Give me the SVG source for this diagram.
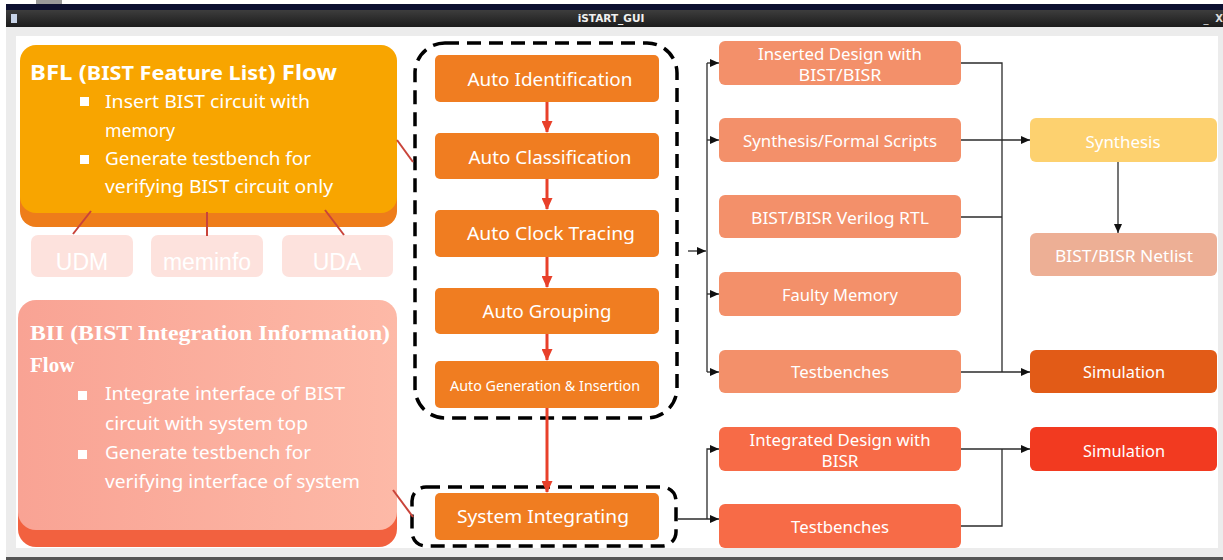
<svg xmlns="http://www.w3.org/2000/svg" width="1223" height="560" viewBox="0 0 1223 560">
<defs>
<style>
.t{font-family:"Noto Sans","DejaVu Sans",sans-serif;fill:#fff;}
.m{font-size:18px;text-anchor:middle;}
.c2{font-size:17px;text-anchor:middle;}
.lt{font-size:18.5px;}
.blk{fill:none;stroke:#2b2b2b;stroke-width:1.3;}
.red{fill:none;stroke:#e8402a;stroke-width:3;}
.redl{fill:none;stroke:#c9443a;stroke-width:2;}
.dash{fill:none;stroke:#000;stroke-width:3.5;stroke-dasharray:14 8;}
.ob{fill:#f07d21;}
.sb{fill:#f3906a;}
.rb{fill:#f76b47;}
</style>
<marker id="ab" markerWidth="9" markerHeight="8" refX="9" refY="4" orient="auto" markerUnits="userSpaceOnUse"><path d="M0,0 L9,4 L0,8 Z" fill="#111"/></marker>
<marker id="ar" markerWidth="12" markerHeight="11" refX="11" refY="5.5" orient="auto" markerUnits="userSpaceOnUse"><path d="M0,0 L12,5.5 L0,11 Z" fill="#e8402a"/></marker>
<linearGradient id="bar" x1="0" y1="0" x2="0" y2="1"><stop offset="0" stop-color="#3d3d3d"/><stop offset="1" stop-color="#1c1c1c"/></linearGradient>
<linearGradient id="bii" x1="0" y1="0" x2="1" y2="0"><stop offset="0" stop-color="#f9a394"/><stop offset="1" stop-color="#fdb9a7"/></linearGradient>
</defs>
<rect width="1223" height="560" fill="#ffffff"/>
<g id="window">
<rect x="6" y="4" width="1217" height="6" fill="#0d1030"/>
<rect x="36" y="0" width="26" height="4" fill="#9a9a9a"/>
<rect x="6" y="10" width="1217" height="17" fill="url(#bar)"/>
<rect x="11" y="14" width="6" height="9" fill="#c8d4e8"/>
<text x="611" y="22" text-anchor="middle" font-family="DejaVu Sans,sans-serif" font-weight="bold" font-size="10.5" fill="#f0f0f0">iSTART_GUI</text>
<text x="1206" y="22" text-anchor="middle" font-family="DejaVu Sans,sans-serif" font-size="10" fill="#ddd">_</text>
<text x="1219" y="22" text-anchor="middle" font-family="DejaVu Sans,sans-serif" font-weight="bold" font-size="10" fill="#ddd">X</text>
<rect x="6" y="27" width="1217" height="530" fill="#ececec"/>
<rect x="16" y="36" width="1202" height="512" fill="#ffffff"/>
<rect x="6" y="557" width="1217" height="3" fill="#555"/>
</g>
<g id="bfl">
<rect x="20" y="58" width="377" height="169" rx="16" fill="#ee7d1a"/>
<rect x="20" y="45" width="377" height="168" rx="16" fill="#f8a500"/>
<text class="t" x="30" y="80" font-weight="bold" font-size="21" textLength="307" lengthAdjust="spacingAndGlyphs">BFL (<tspan font-size="19">BIST Feature List</tspan>) Flow</text>
<rect x="80" y="97" width="9" height="9" fill="#fff"/>
<text class="t lt" x="105" y="108" textLength="205" lengthAdjust="spacingAndGlyphs">Insert BIST circuit with</text>
<text class="t lt" x="105" y="137" textLength="70" lengthAdjust="spacingAndGlyphs">memory</text>
<rect x="80" y="155" width="9" height="9" fill="#fff"/>
<text class="t lt" x="105" y="165" textLength="206" lengthAdjust="spacingAndGlyphs">Generate testbench for</text>
<text class="t lt" x="105" y="193" textLength="228" lengthAdjust="spacingAndGlyphs">verifying BIST circuit only</text>
</g>
<g id="udm"><rect x="31" y="235" width="102" height="42" rx="7" fill="#fde2dd"/><text x="82" y="270" text-anchor="middle" font-family="Liberation Sans,Arial,sans-serif" font-size="23" fill="#fff">UDM</text></g>
<g id="meminfo"><rect x="151" y="235" width="112" height="42" rx="7" fill="#fde2dd"/><text x="207" y="270" text-anchor="middle" font-family="Liberation Sans,Arial,sans-serif" font-size="23" fill="#fff">meminfo</text></g>
<g id="uda"><rect x="282" y="235" width="111" height="42" rx="7" fill="#fde2dd"/><text x="337" y="270" text-anchor="middle" font-family="Liberation Sans,Arial,sans-serif" font-size="23" fill="#fff">UDA</text></g>
<g id="bii">
<rect x="18" y="318" width="379" height="229" rx="18" fill="#f2613f"/>
<rect x="18" y="300" width="379" height="230" rx="18" fill="url(#bii)"/>
<text x="30" y="340" font-family="Liberation Serif,serif" font-weight="bold" font-size="21" fill="#fff" textLength="360" lengthAdjust="spacingAndGlyphs">BII (BIST Integration Information)</text>
<text x="30" y="372" font-family="Liberation Serif,serif" font-weight="bold" font-size="21" fill="#fff">Flow</text>
<rect x="78" y="391" width="9" height="9" fill="#fff"/>
<text class="t lt" x="105" y="400" textLength="240" lengthAdjust="spacingAndGlyphs">Integrate interface of BIST</text>
<text class="t lt" x="105" y="430" textLength="203" lengthAdjust="spacingAndGlyphs">circuit with system top</text>
<rect x="78" y="450" width="9" height="9" fill="#fff"/>
<text class="t lt" x="105" y="459" textLength="206" lengthAdjust="spacingAndGlyphs">Generate testbench for</text>
<text class="t lt" x="105" y="488" textLength="255" lengthAdjust="spacingAndGlyphs">verifying interface of system</text>
</g>
<g id="auto-group"><rect class="dash" x="415" y="43" width="262" height="375" rx="30"/></g>
<g id="sys-group"><rect class="dash" x="412" y="487" width="264" height="59" rx="14"/></g>
<g id="auto-identification"><rect class="ob" x="435" y="55" width="224" height="47" rx="5"/><text class="t m" x="550" y="86" textLength="165" lengthAdjust="spacingAndGlyphs">Auto Identification</text></g>
<g id="auto-classification"><rect class="ob" x="435" y="133" width="224" height="46" rx="5"/><text class="t m" x="550" y="164" textLength="163" lengthAdjust="spacingAndGlyphs">Auto Classification</text></g>
<g id="auto-clock-tracing"><rect class="ob" x="435" y="210" width="224" height="47" rx="5"/><text class="t m" x="551" y="240" textLength="168" lengthAdjust="spacingAndGlyphs">Auto Clock Tracing</text></g>
<g id="auto-grouping"><rect class="ob" x="435" y="288" width="224" height="46" rx="5"/><text class="t m" x="547" y="318" textLength="129" lengthAdjust="spacingAndGlyphs">Auto Grouping</text></g>
<g id="auto-generation"><rect class="ob" x="435" y="361" width="224" height="47" rx="5"/><text class="t" x="545" y="391" font-size="14.5" text-anchor="middle" textLength="190" lengthAdjust="spacingAndGlyphs">Auto Generation &amp; Insertion</text></g>
<g id="system-integrating"><rect class="ob" x="435" y="493" width="224" height="47" rx="5"/><text class="t m" x="543" y="523" textLength="172" lengthAdjust="spacingAndGlyphs">System Integrating</text></g>
<g id="inserted-design"><rect class="sb" x="719" y="41" width="242" height="44" rx="6"/><text class="t c2" x="840" y="60" textLength="164" lengthAdjust="spacingAndGlyphs">Inserted Design with</text><text class="t c2" x="840" y="81" textLength="83" lengthAdjust="spacingAndGlyphs">BIST/BISR</text></g>
<g id="synth-scripts"><rect class="sb" x="719" y="118" width="242" height="44" rx="6"/><text class="t c2" x="840" y="147" textLength="194" lengthAdjust="spacingAndGlyphs">Synthesis/Formal Scripts</text></g>
<g id="rtl"><rect class="sb" x="719" y="195" width="242" height="43" rx="6"/><text class="t c2" x="840" y="224" textLength="178" lengthAdjust="spacingAndGlyphs">BIST/BISR Verilog RTL</text></g>
<g id="faulty-memory"><rect class="sb" x="719" y="272" width="242" height="44" rx="6"/><text class="t c2" x="840" y="301" textLength="116" lengthAdjust="spacingAndGlyphs">Faulty Memory</text></g>
<g id="testbenches-1"><rect class="sb" x="719" y="350" width="242" height="43" rx="6"/><text class="t c2" x="840" y="378" textLength="98" lengthAdjust="spacingAndGlyphs">Testbenches</text></g>
<g id="integrated-design"><rect class="rb" x="719" y="427" width="242" height="44" rx="6"/><text class="t c2" x="840" y="446" textLength="181" lengthAdjust="spacingAndGlyphs">Integrated Design with</text><text class="t c2" x="840" y="467" textLength="37" lengthAdjust="spacingAndGlyphs">BISR</text></g>
<g id="testbenches-2"><rect class="rb" x="719" y="504" width="242" height="44" rx="6"/><text class="t c2" x="840" y="533" textLength="98" lengthAdjust="spacingAndGlyphs">Testbenches</text></g>
<g id="synthesis"><rect x="1030" y="118" width="187" height="44" rx="6" fill="#fdd16f"/><text class="t c2" x="1123" y="148" textLength="75" lengthAdjust="spacingAndGlyphs">Synthesis</text></g>
<g id="netlist"><rect x="1030" y="233" width="187" height="43" rx="6" fill="#edaf95"/><text class="t c2" x="1124" y="262" textLength="138" lengthAdjust="spacingAndGlyphs">BIST/BISR Netlist</text></g>
<g id="simulation-1"><rect x="1030" y="350" width="187" height="43" rx="6" fill="#e25b17"/><text class="t c2" x="1124" y="378" textLength="82" lengthAdjust="spacingAndGlyphs">Simulation</text></g>
<g id="simulation-2"><rect x="1030" y="427" width="187" height="44" rx="6" fill="#f23a20"/><text class="t c2" x="1124" y="457" textLength="82" lengthAdjust="spacingAndGlyphs" fill="#ffe8e0">Simulation</text></g>
<g id="connectors">
<path class="redl" d="M397,140 L413,162"/>
<path class="redl" d="M91,211 L73,234"/>
<path class="redl" d="M207,212 V236"/>
<path class="redl" d="M325,210 L344,235"/>
<path class="redl" d="M393,490 L413,517"/>
<path class="red" d="M547,102 V132" marker-end="url(#ar)"/>
<path class="red" d="M547,179 V209" marker-end="url(#ar)"/>
<path class="red" d="M547,257 V287" marker-end="url(#ar)"/>
<path class="red" d="M547,334 V360" marker-end="url(#ar)"/>
<path class="red" d="M547,408 V492" marker-end="url(#ar)"/>
<path class="blk" d="M688,251 H706" marker-end="url(#ab)"/>
<path class="blk" d="M707,63 V372"/>
<path class="blk" d="M707,63 H719" marker-end="url(#ab)"/>
<path class="blk" d="M707,140 H719" marker-end="url(#ab)"/>
<path class="blk" d="M707,294 H719" marker-end="url(#ab)"/>
<path class="blk" d="M707,372 H719" marker-end="url(#ab)"/>
<path class="blk" d="M961,63 H1002 V372"/>
<path class="blk" d="M961,140 H1030" marker-end="url(#ab)"/>
<path class="blk" d="M961,217 H1002"/>
<path class="blk" d="M961,372 H1030" marker-end="url(#ab)"/>
<path class="blk" d="M1118,162 V233" marker-end="url(#ab)"/>
<path class="blk" d="M678,519 H719" marker-end="url(#ab)"/>
<path class="blk" d="M707,519 V449 H719" marker-end="url(#ab)"/>
<path class="blk" d="M961,449 H1030" marker-end="url(#ab)"/>
<path class="blk" d="M961,526 H1002 V449"/>
</g>
</svg>
